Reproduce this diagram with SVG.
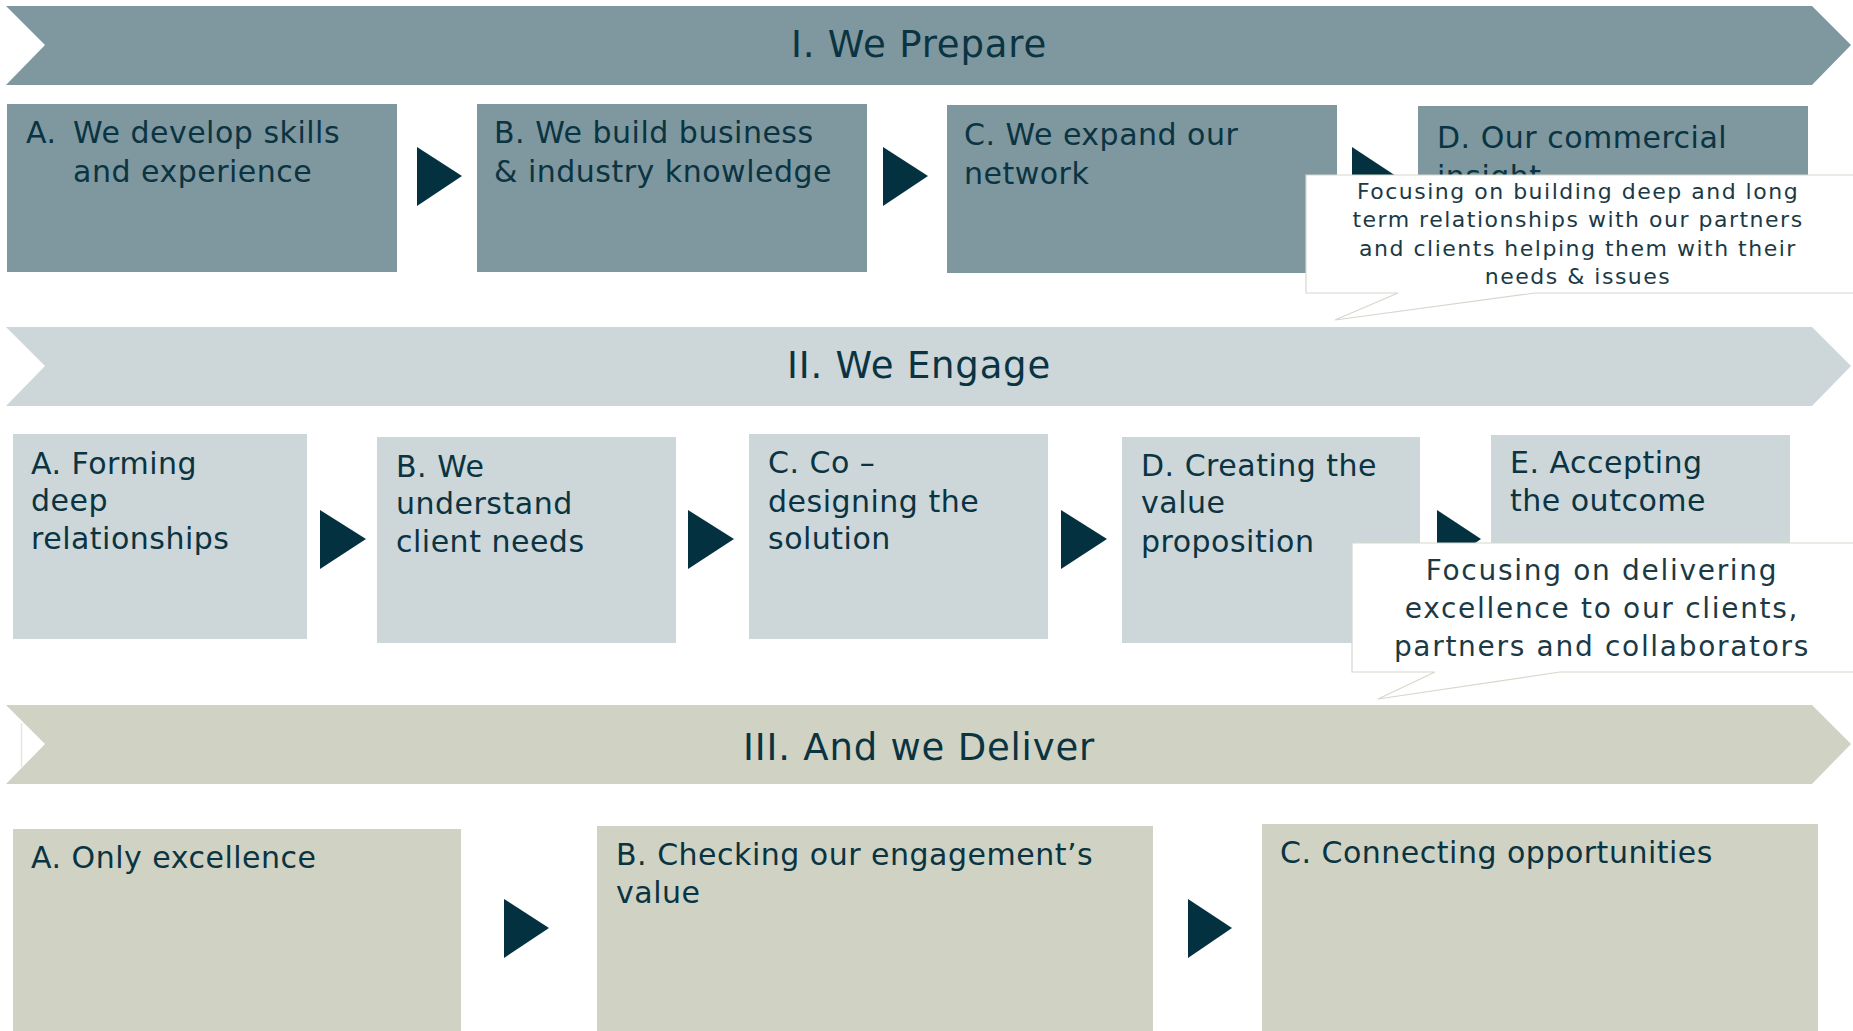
<svg xmlns="http://www.w3.org/2000/svg" width="1853" height="1031" viewBox="0 0 1853 1031">
<style>
text{font-family:"DejaVu Sans","Liberation Sans",sans-serif;fill:#0A3442}
.t{font-size:37px;letter-spacing:0.8px}
.b{font-size:30px;letter-spacing:0.5px}
.c1{font-size:22px;letter-spacing:1.5px;fill:#1B3A45}
.c2{font-size:28px;letter-spacing:1.7px;fill:#1B3A45}
.p1{fill:#7F979E}
.p2{fill:#CDD6D9}
.p3{fill:#D0D2C3}
.arr{fill:#04313F}
.call{fill:#FFFFFF;stroke:#D6D8CC;stroke-width:1.2}
</style>
<rect width="1853" height="1031" fill="#FFFFFF"/>

<g id="banner-prepare">
<polygon class="p1" points="6,6 1812,6 1851,45 1812,85 6,85 45,45"/>
<text class="t" x="919" y="57" text-anchor="middle">I. We Prepare</text>
</g>
<g id="prep-a">
<rect class="p1" x="7" y="104" width="390" height="168"/>
<text class="b" x="26" y="143">A.</text>
<text class="b" x="73" y="143">We develop skills</text>
<text class="b" x="73" y="182">and experience</text>
</g>
<g id="prep-b">
<rect class="p1" x="477" y="104" width="390" height="168"/>
<text class="b" x="494" y="143">B. We build business</text>
<text class="b" x="494" y="182">&amp; industry knowledge</text>
</g>
<g id="prep-c">
<rect class="p1" x="947" y="105" width="390" height="168"/>
<text class="b" x="964" y="145">C. We expand our</text>
<text class="b" x="964" y="184">network</text>
</g>
<g id="prep-d">
<rect class="p1" x="1418" y="106" width="390" height="168"/>
<text class="b" x="1437" y="148">D. Our commercial</text>
<text class="b" x="1437" y="187">insight</text>
</g>

<g id="banner-engage">
<polygon class="p2" points="6,327 1812,327 1851,366 1812,406 6,406 45,366"/>
<text class="t" x="919" y="378" text-anchor="middle">II. We Engage</text>
</g>
<g id="eng-a">
<rect class="p2" x="13" y="434" width="294" height="205"/>
<text class="b" x="31" y="474">A. Forming</text>
<text class="b" x="31" y="511">deep</text>
<text class="b" x="31" y="549">relationships</text>
</g>
<g id="eng-b">
<rect class="p2" x="377" y="437" width="299" height="206"/>
<text class="b" x="396" y="477">B. We</text>
<text class="b" x="396" y="514">understand</text>
<text class="b" x="396" y="552">client needs</text>
</g>
<g id="eng-c">
<rect class="p2" x="749" y="434" width="299" height="205"/>
<text class="b" x="768" y="473">C. Co –</text>
<text class="b" x="768" y="512">designing the</text>
<text class="b" x="768" y="549">solution</text>
</g>
<g id="eng-d">
<rect class="p2" x="1122" y="437" width="298" height="206"/>
<text class="b" x="1141" y="476">D. Creating the</text>
<text class="b" x="1141" y="513">value</text>
<text class="b" x="1141" y="552">proposition</text>
</g>
<g id="eng-e">
<rect class="p2" x="1491" y="435" width="299" height="206"/>
<text class="b" x="1510" y="473">E. Accepting</text>
<text class="b" x="1510" y="511">the outcome</text>
</g>

<g id="banner-deliver">
<polygon class="p3" points="6,705 1812,705 1851,744 1812,784 6,784 45,744"/>
<line x1="21.5" y1="723" x2="21.5" y2="767" stroke="#E6E7DE" stroke-width="1.5"/>
<text class="t" x="919" y="760" text-anchor="middle">III. And we Deliver</text>
</g>
<g id="del-a">
<rect class="p3" x="13" y="829" width="448" height="202"/>
<text class="b" x="31" y="868">A. Only excellence</text>
</g>
<g id="del-b">
<rect class="p3" x="597" y="826" width="556" height="205"/>
<text class="b" x="616" y="865">B. Checking our engagement’s</text>
<text class="b" x="616" y="903">value</text>
</g>
<g id="del-c">
<rect class="p3" x="1262" y="824" width="556" height="207"/>
<text class="b" x="1280" y="863">C. Connecting opportunities</text>
</g>

<g id="connectors">
<polygon class="arr" points="417,147 462,176 417,206"/>
<polygon class="arr" points="883,147 928,176 883,206"/>
<polygon class="arr" points="1352,147 1396,176 1352,206"/>
<polygon class="arr" points="320,510 366,539 320,569"/>
<polygon class="arr" points="688,510 734,539 688,569"/>
<polygon class="arr" points="1061,510 1107,539 1061,569"/>
<polygon class="arr" points="1437,510 1481,539 1437,569"/>
<polygon class="arr" points="504,899 549,928 504,958"/>
<polygon class="arr" points="1188,899 1232,928 1188,958"/>
</g>

<g id="callout-prepare">
<path class="call" d="M1306,175 H1856 V293 H1535 L1335,320 L1398,293 H1306 Z"/>
<text class="c1" x="1578" y="199" text-anchor="middle">Focusing on building deep and long</text>
<text class="c1" x="1578" y="227" text-anchor="middle">term relationships with our partners</text>
<text class="c1" x="1578" y="256" text-anchor="middle">and clients helping them with their</text>
<text class="c1" x="1578" y="284" text-anchor="middle">needs &amp; issues</text>
</g>
<g id="callout-engage">
<path class="call" d="M1352,543 H1856 V672 H1560 L1378,699 L1435,672 H1352 Z"/>
<text class="c2" x="1602" y="580" text-anchor="middle">Focusing on delivering</text>
<text class="c2" x="1602" y="618" text-anchor="middle">excellence to our clients,</text>
<text class="c2" x="1602" y="656" text-anchor="middle">partners and collaborators</text>
</g>
</svg>
